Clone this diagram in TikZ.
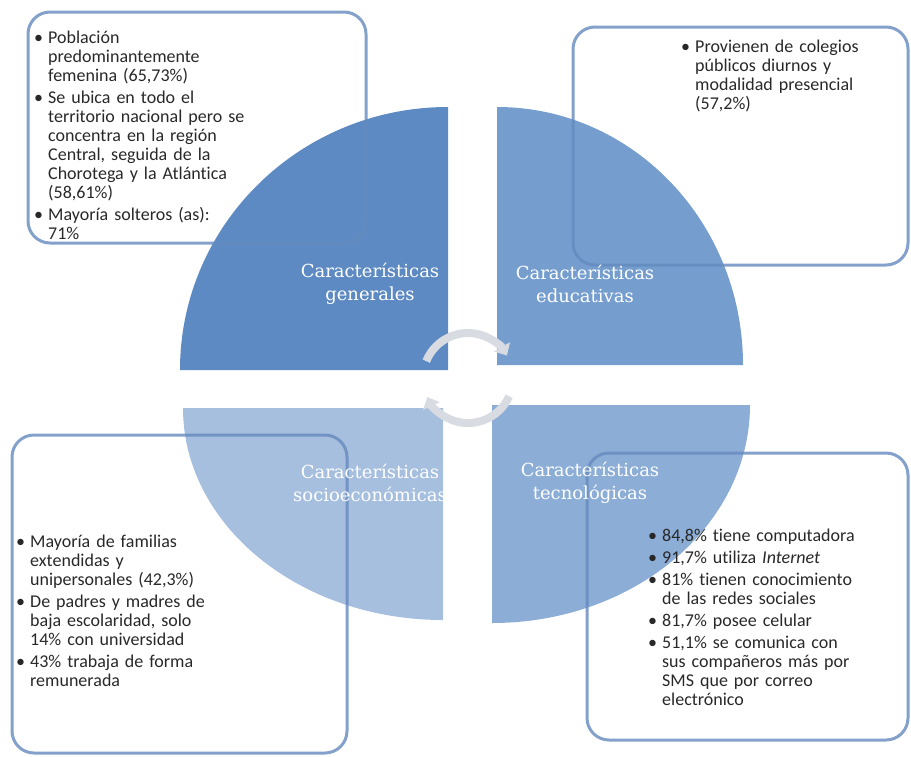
\documentclass[tikz,border=0pt]{standalone}
\usepackage{fontspec}
\setmainfont{Carlito}[Ligatures=NoCommon]
\newfontfamily\titulofont{DejaVu Serif}
\usepackage{enumitem}
\usetikzlibrary{arrows.meta}
\definecolor{azulgen}{RGB}{93,138,194}
\definecolor{azuledu}{RGB}{117,158,207}
\definecolor{azulsoc}{RGB}{166,191,222}
\definecolor{azultec}{RGB}{140,173,214}
\definecolor{borde}{RGB}{100,138,190}
\definecolor{gris}{RGB}{216,220,226}
\definecolor{texto}{RGB}{40,40,40}
\setlist[itemize]{label=\textbullet, leftmargin=12pt, labelsep=5pt,
    itemsep=3pt, topsep=0pt, parsep=0pt, partopsep=0pt}
\tikzset{
    %Define style for the framed boxes
    caja/.style={
           draw=borde, draw opacity=0.8,
           line width=3pt,
           rounded corners=22pt},
    %Define style for the quadrant titles
    titulo/.style={
           text=white,
           font=\titulofont\fontsize{18}{23}\selectfont,
           align=center},
    % Node for the bullet lists
    lista/.style={
           anchor=north west,
           inner sep=0pt,
           align=left,
           text=texto,
           font=\fontsize{18}{19}\selectfont},
    % Define circular arrow style
    flecha/.style={
           line width=8pt,
           draw=gris,
           -{Triangle[width=18pt,length=10pt]}}
}

\begin{document}
\begin{tikzpicture}[x=1pt,y=-1pt]
    \useasboundingbox (0,0) rectangle (911,756);
    % cuadrantes
    \fill[azulgen] (448,370) -- (180,370) arc[start angle=180, end angle=270, x radius=268, y radius=263] -- cycle;
    \fill[azuledu] (497,365) -- (497,107) arc[start angle=270, end angle=360, x radius=246, y radius=258] -- cycle;
    \fill[azultec] (492,405) -- (750,405) arc[start angle=0, end angle=90, x radius=258, y radius=218] -- cycle;
    \fill[azulsoc] (443,408) -- (443,620) arc[start angle=90, end angle=180, x radius=260, y radius=212] -- cycle;
    % flechas del centro
    \draw[flecha] (468,378) ++(202:45) arc[start angle=202, end angle=330, radius=45];
    \draw[flecha] (468,378) ++(24:45) arc[start angle=24, end angle=155, radius=45];
    % cajas
    \draw[caja] (28,12) rectangle (366,243);
    \draw[caja] (573,27) rectangle (908,265);
    \draw[caja] (12,435) rectangle (347,753);
    \draw[caja] (587,453) rectangle (908,740);
    % titulos
    \node[titulo] (gen) at (370,284) {Características\\generales};
    \node[titulo] (edu) at (585,284) {Características\\educativas};
    \node[titulo] (soc) at (370,483) {Características\\socioeconómicas};
    \node[titulo] (tec) at (590,483) {Características\\tecnológicas};
    % listas
    \node[lista, text width=270pt] (listagen) at (36,24)
    {\begin{itemize}
    \item Población\newline predominantemente\newline femenina (65,73\%)
    \item Se ubica en todo el\newline territorio nacional pero se\newline concentra en la región\newline Central, seguida de la\newline Chorotega y la Atlántica\newline (58,61\%)
    \item Mayoría solteros (as):\newline 71\%
    \end{itemize}};
    \node[lista, text width=215pt] (listaedu) at (683,33)
    {\begin{itemize}
    \item Provienen de colegios\newline públicos diurnos y\newline modalidad presencial\newline (57,2\%)
    \end{itemize}};
    \node[lista, text width=300pt] (listasoc) at (18,528)
    {\begin{itemize}
    \item Mayoría de familias\newline extendidas y\newline unipersonales (42,3\%)
    \item De padres y madres de\newline baja escolaridad, solo\newline 14\% con universidad
    \item 43\% trabaja de forma\newline remunerada
    \end{itemize}};
    \node[lista, text width=255pt] (listatec) at (650,522)
    {\begin{itemize}
    \item 84,8\% tiene computadora
    \item 91,7\% utiliza \textit{Internet}
    \item 81\% tienen conocimiento\newline de las redes sociales
    \item 81,7\% posee celular
    \item 51,1\% se comunica con\newline sus compañeros más por\newline SMS que por correo\newline electrónico
    \end{itemize}};
\end{tikzpicture}
\end{document}
